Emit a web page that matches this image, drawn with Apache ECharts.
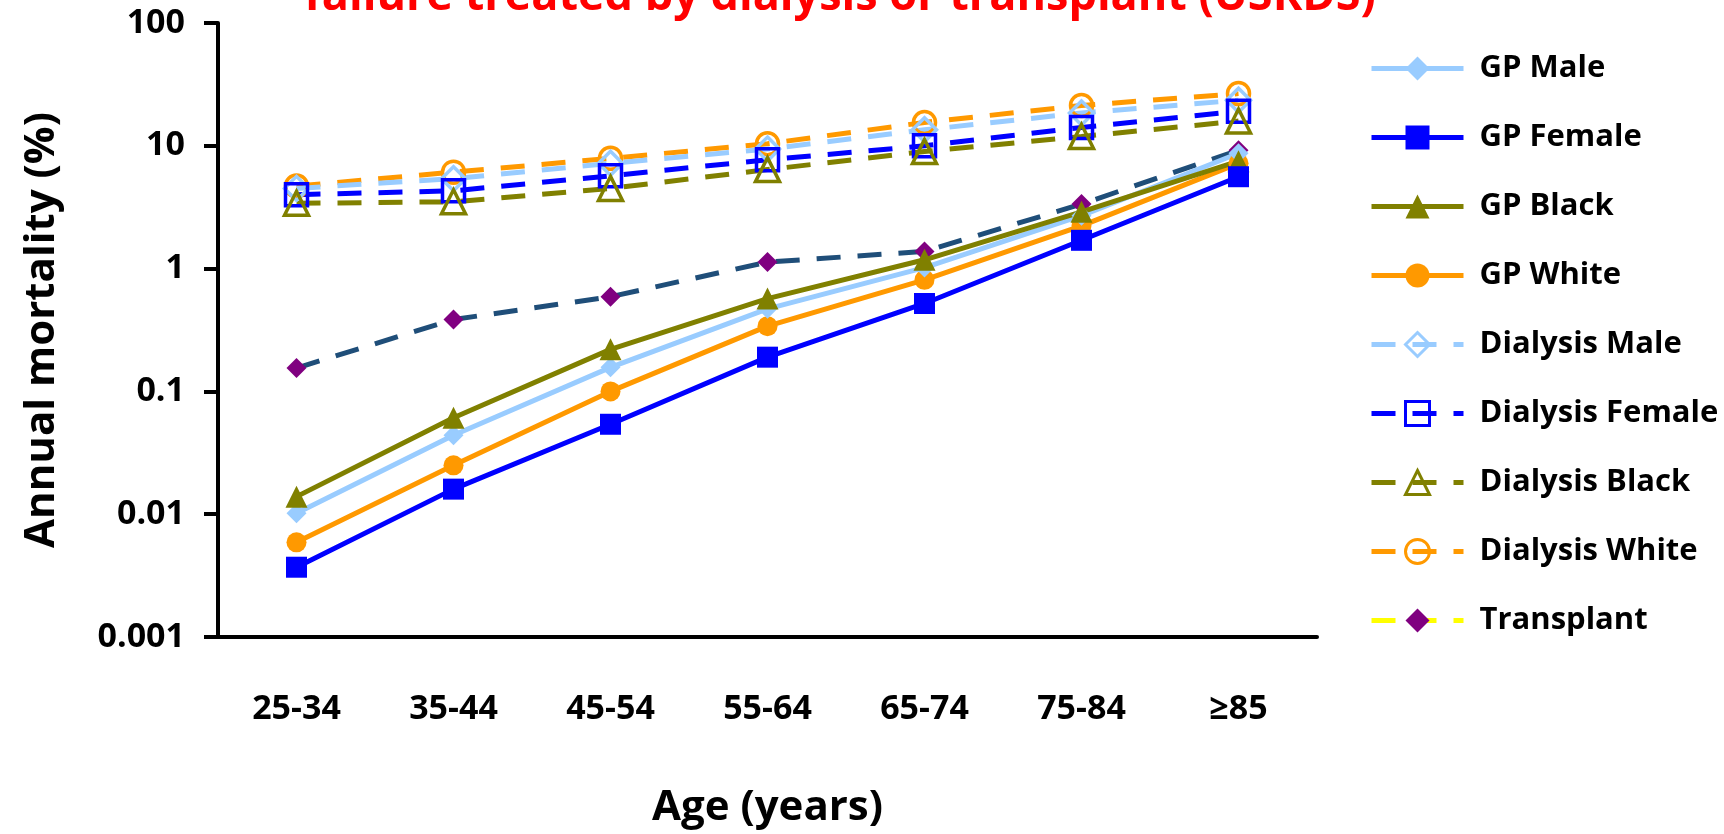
<!DOCTYPE html>
<html><head><meta charset="utf-8">
<script src="https://cdn.jsdelivr.net/npm/echarts@6/dist/echarts.min.js"></script>
<style>html,body{margin:0;padding:0;background:#fff}#c{width:1724px;height:834px}</style>
</head><body><div id="c"></div>
<script>
const categories = ['25-34', '35-44', '45-54', '55-64', '65-74', '75-84', '≥85'];
const yTickLabels = ['0.001', '0.01', '0.1', '1', '10', '100'];
const seriesNames = ['GP Male', 'GP Female', 'GP Black', 'GP White', 'Dialysis Male', 'Dialysis Female', 'Dialysis Black', 'Dialysis White', 'Transplant'];
const gpMale = [0.0102, 0.044, 0.157, 0.47, 1.02, 2.7, 8.7];
const gpFemale = [0.0037, 0.016, 0.054, 0.19, 0.52, 1.7, 5.6];
const gpBlack = [0.0139, 0.061, 0.22, 0.57, 1.18, 2.9, 7.5];
const gpWhite = [0.0059, 0.025, 0.10, 0.34, 0.81, 2.23, 7.2];
const dialysisMale = [4.5, 5.4, 7.2, 9.4, 13.5, 18.5, 23.5];
const dialysisFemale = [4.0, 4.3, 5.7, 7.7, 10.0, 14.1, 19.1];
const dialysisBlack = [3.4, 3.5, 4.5, 6.4, 9.0, 11.9, 15.9];
const dialysisWhite = [4.7, 6.1, 7.9, 10.4, 15.5, 21.3, 26.6];
const transplant = [0.155, 0.385, 0.59, 1.13, 1.38, 3.35, 9.2];

const FONT = 'Open Sans';
const LIGHT = '#99CCFF', BLUE = '#0000FF', OLIVE = '#808000', ORANGE = '#FF9900', NAVY = '#1F4E79', PURPLE = '#800080';
const DASH = [24, 17];

function solid(name, data, color, symbol, size) {
  return {
    name, type: 'line', data, symbol, symbolSize: size,
    lineStyle: { color, width: 5 },
    itemStyle: { color },
    z: 3
  };
}
function hollow(name, data, color, symbol, size) {
  return {
    name, type: 'line', data, symbol, symbolSize: size,
    lineStyle: { color, width: 5, type: DASH },
    itemStyle: { color: 'rgba(255,255,255,0)', borderColor: color, borderWidth: 3.5 },
    z: 2
  };
}

const series = [
  {
    name: 'Transplant', type: 'line', data: transplant, symbol: 'diamond', symbolSize: 20,
    lineStyle: { color: NAVY, width: 5, type: DASH },
    itemStyle: { color: PURPLE }, z: 2
  },
  hollow('Dialysis White', dialysisWhite, ORANGE, 'circle', 22),
  hollow('Dialysis Male', dialysisMale, LIGHT, 'diamond', 24),
  hollow('Dialysis Female', dialysisFemale, BLUE, 'rect', 22),
  hollow('Dialysis Black', dialysisBlack, OLIVE, 'triangle', 24),
  solid('GP White', gpWhite, ORANGE, 'circle', 20),
  solid('GP Male', gpMale, LIGHT, 'diamond', 20),
  solid('GP Black', gpBlack, OLIVE, 'triangle', 22),
  solid('GP Female', gpFemale, BLUE, 'rect', 21)
];

const legendStyles = {
  'GP Male': { line: LIGHT, fill: LIGHT },
  'GP Female': { line: BLUE, fill: BLUE },
  'GP Black': { line: OLIVE, fill: OLIVE },
  'GP White': { line: ORANGE, fill: ORANGE },
  'Dialysis Male': { line: LIGHT, border: LIGHT, dash: true },
  'Dialysis Female': { line: BLUE, border: BLUE, dash: true },
  'Dialysis Black': { line: OLIVE, border: OLIVE, dash: true },
  'Dialysis White': { line: ORANGE, border: ORANGE, dash: true },
  'Transplant': { line: '#FFFF00', fill: PURPLE, dash: true }
};
const legendData = seriesNames.map(n => {
  const s = legendStyles[n];
  return {
    name: n,
    lineStyle: { color: s.line, width: 5, type: s.dash ? DASH : 'solid' },
    itemStyle: s.border
      ? { color: 'rgba(255,255,255,0)', borderColor: s.border, borderWidth: 3 }
      : { color: s.fill, borderWidth: 0 }
  };
});

const chart = echarts.init(document.getElementById('c'));
chart.setOption({
  animation: false,
  backgroundColor: '#ffffff',
  graphic: [{
    type: 'text', x: 840, y: -3,
    style: {
      text: 'failure treated by dialysis or transplant (USRDS)',
      fill: '#FF0000', font: 'bold 45px "' + FONT + '"',
      align: 'center', verticalAlign: 'middle'
    }
  }],
  grid: { left: 218, top: 23, width: 1099, height: 629, containLabel: false },
  legend: {
    orient: 'vertical', left: 1364, top: 48,
    itemWidth: 92, itemHeight: 30, itemGap: 38,
    textStyle: { fontFamily: FONT, fontWeight: 'bold', fontSize: 31, color: '#000', lineHeight: 30, padding: [0, 0, 0, 11] },
    data: legendData
  },
  xAxis: {
    type: 'category', data: categories, boundaryGap: true,
    name: 'Age (years)', nameLocation: 'middle', nameGap: 150,
    nameTextStyle: { fontFamily: FONT, fontWeight: 'bold', fontSize: 42, color: '#000' },
    axisLine: { lineStyle: { color: '#000', width: 4 } },
    axisTick: { alignWithLabel: true, length: 14, lineStyle: { color: '#000', width: 4 } },
    axisLabel: { fontFamily: FONT, fontWeight: 'bold', fontSize: 34, color: '#000', margin: 55 },
    splitLine: { show: false }
  },
  yAxis: {
    type: 'log', logBase: 10, min: 0.001, max: 100, splitNumber: 5,
    name: 'Annual mortality (%)', nameLocation: 'middle', nameGap: 155, nameRotate: 90,
    nameTextStyle: { fontFamily: FONT, fontWeight: 'bold', fontSize: 42, color: '#000' },
    axisLine: { show: true, lineStyle: { color: '#000', width: 4 } },
    axisTick: { show: true, length: 14, lineStyle: { color: '#000', width: 4 } },
    axisLabel: {
      fontFamily: FONT, fontWeight: 'bold', fontSize: 34, color: '#000', margin: 33,
      formatter: v => yTickLabels[Math.round(Math.log10(v)) + 3]
    },
    splitLine: { show: false }, minorTick: { show: false }
  },
  series
});
</script></body></html>
